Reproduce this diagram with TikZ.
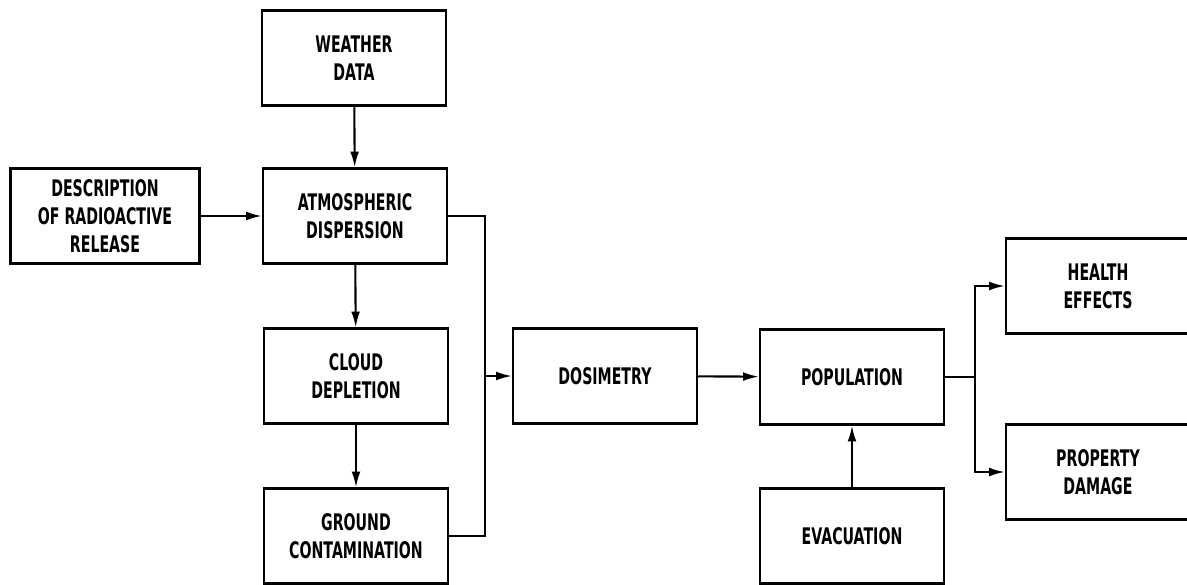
\documentclass[tikz,border=0pt]{standalone}
\usepackage{fontspec}
\setsansfont{DejaVu Sans}[FakeStretch=0.62]
\usepackage{tikz}
\usetikzlibrary{arrows.meta}

\begin{document}
\begin{tikzpicture}[x=0.02cm, y=-0.02cm, line width=1.2pt,
    blk/.style={draw, minimum width=184*0.02cm, minimum height=95*0.02cm, align=center,
      font=\sffamily\bfseries\fontsize{13}{16}\selectfont, inner sep=2pt},
    flow/.style={-{Latex[length=9pt,width=5pt]}}]
    \useasboundingbox (0,0) rectangle (1187,585);
    \node[blk] (weather) at (354, 58) {WEATHER\\DATA};
    \node[blk] (atmos) at (355, 216) {ATMOSPHERIC\\DISPERSION};
    \node[blk, minimum width=189*0.02cm] (release) at (105, 216) {DESCRIPTION\\OF RADIOACTIVE\\RELEASE};
    \node[blk] (cloud) at (356, 376) {CLOUD\\DEPLETION};
    \node[blk] (ground) at (356, 536) {GROUND\\CONTAMINATION};
    \node[blk] (dosim) at (605, 376) {DOSIMETRY};
    \node[blk] (popul) at (852, 377) {POPULATION};
    \node[blk] (evac) at (852, 536) {EVACUATION};
    \node[blk] (health) at (1098, 286) {HEALTH\\EFFECTS};
    \node[blk] (damage) at (1098, 472) {PROPERTY\\DAMAGE};
    \coordinate (join) at (485, 376);
    \coordinate (split) at (975, 377);
    \draw[flow] (weather) -- (atmos);
    \draw[flow] (release) -- (atmos);
    \draw[flow] (atmos) -- (cloud);
    \draw[flow] (cloud) -- (ground);
    \draw (atmos.east) -| (join) (ground.east) -| (join);
    \draw[flow] (join) -- (dosim);
    \draw[flow] (dosim) -- (popul);
    \draw[flow] (evac) -- (popul);
    \draw (popul) -- (split);
    \draw[flow] (split) |- (health);
    \draw[flow] (split) |- (damage);
\end{tikzpicture}
\end{document}
